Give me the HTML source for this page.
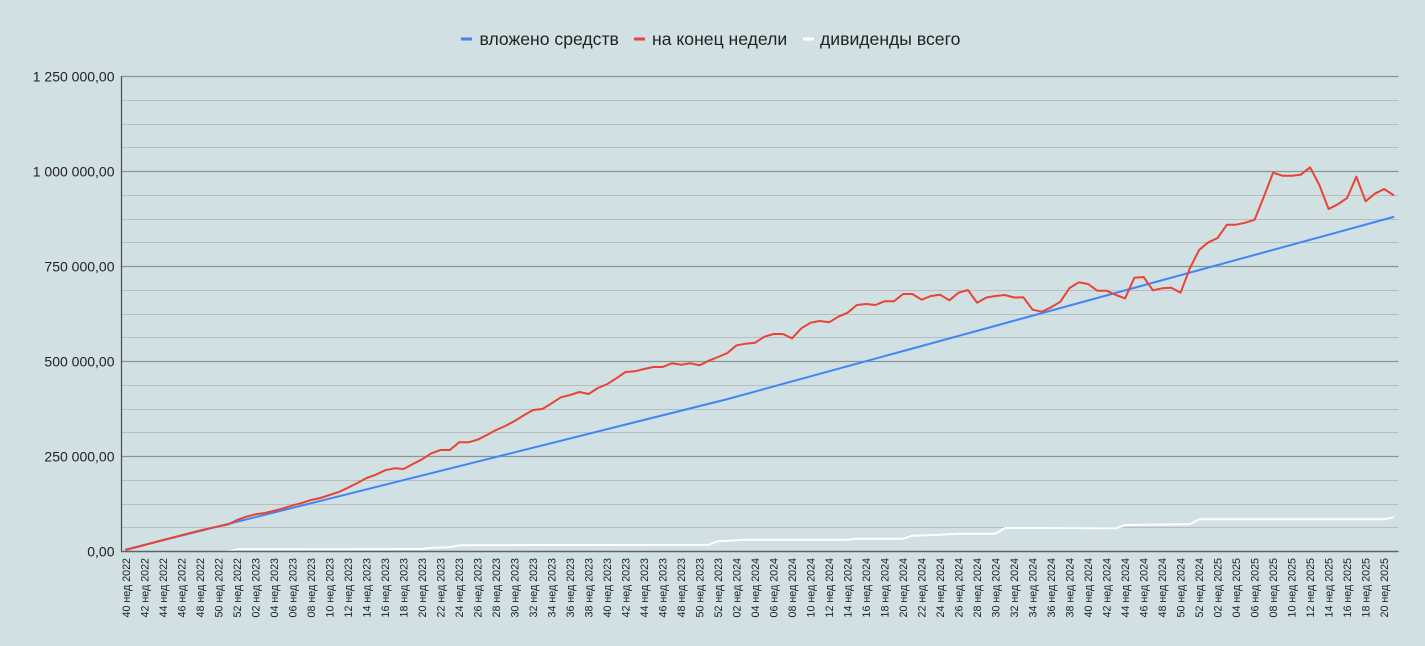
<!DOCTYPE html>
<html>
<head>
<meta charset="utf-8">
<style>
html,body{margin:0;padding:0;background:#d0e0e3;}
body{width:1425px;height:646px;overflow:hidden;}
svg{display:block;font-family:"Liberation Sans",Arial,sans-serif;}
</style>
</head>
<body>
<svg width="1425" height="646" viewBox="0 0 1425 646" xmlns="http://www.w3.org/2000/svg">
<rect x="0" y="0" width="1425" height="646" fill="#d0e0e3"/>

<!-- legend -->
<rect x="461" y="37.5" width="11" height="3" fill="#4285f4"/>
<text x="479.5" y="45" font-size="17.6" fill="#222">вложено средств</text>
<rect x="634" y="37.5" width="11" height="3" fill="#ea4335"/>
<text x="652" y="45" font-size="17.6" fill="#222">на конец недели</text>
<rect x="803" y="37.5" width="11" height="3" fill="#ffffff"/>
<text x="820" y="45" font-size="17.6" fill="#222">дивиденды всего</text>

<!-- minor gridlines -->
<g stroke="#b9bdbe" stroke-width="1">
<line x1="122" y1="100.5" x2="1398.5" y2="100.5"/>
<line x1="122" y1="124.5" x2="1398.5" y2="124.5"/>
<line x1="122" y1="147.5" x2="1398.5" y2="147.5"/>
<line x1="122" y1="195.5" x2="1398.5" y2="195.5"/>
<line x1="122" y1="219.5" x2="1398.5" y2="219.5"/>
<line x1="122" y1="242.5" x2="1398.5" y2="242.5"/>
<line x1="122" y1="290.5" x2="1398.5" y2="290.5"/>
<line x1="122" y1="314.5" x2="1398.5" y2="314.5"/>
<line x1="122" y1="337.5" x2="1398.5" y2="337.5"/>
<line x1="122" y1="385.5" x2="1398.5" y2="385.5"/>
<line x1="122" y1="409.5" x2="1398.5" y2="409.5"/>
<line x1="122" y1="432.5" x2="1398.5" y2="432.5"/>
<line x1="122" y1="480.5" x2="1398.5" y2="480.5"/>
<line x1="122" y1="504.5" x2="1398.5" y2="504.5"/>
<line x1="122" y1="527.5" x2="1398.5" y2="527.5"/>
</g>
<!-- major gridlines -->
<g stroke="#8d9293" stroke-width="1.3">
<line x1="122" y1="76.5" x2="1398.5" y2="76.5"/>
<line x1="122" y1="171.5" x2="1398.5" y2="171.5"/>
<line x1="122" y1="266.5" x2="1398.5" y2="266.5"/>
<line x1="122" y1="361.5" x2="1398.5" y2="361.5"/>
<line x1="122" y1="456.5" x2="1398.5" y2="456.5"/>
</g>

<!-- y labels -->
<g font-size="14" fill="#222" text-anchor="end">
<text x="114.5" y="81.5">1 250 000,00</text>
<text x="114.5" y="176.5">1 000 000,00</text>
<text x="114.5" y="271.5">750 000,00</text>
<text x="114.5" y="366.5">500 000,00</text>
<text x="114.5" y="461.5">250 000,00</text>
<text x="114.5" y="556.5">0,00</text>
</g>

<!-- series -->
<g transform="translate(126.1 0) scale(9.25 1)" fill="none" stroke-linejoin="round" stroke-linecap="round">
<polyline vector-effect="non-scaling-stroke" stroke="#4285f4" stroke-width="2" points="0,549.5 65,399.1 137,217"/>
<polyline vector-effect="non-scaling-stroke" stroke="#ea4335" stroke-width="2" points="0,549.8 1,547.5 2,545 3,542.5 4,540 5,537.6 6,535.2 7,532.8 8,530.5 9,528.3 10,526.3 11,524.5 12,520 13,516.7 14,514.3 15,513 16,510.7 17,508.3 18,505.3 19,503 20,500 21,498 22,495 23,492 24,487.7 25,483 26,478 27,474.7 28,470.3 29,468.3 30,469 31,464 32,459.3 33,453.3 34,450 35,450 36,442.3 37,442.3 38,439.7 39,435 40,430 41,426 42,421 43,415.3 44,410 45,409 46,403.3 47,397.3 48,395 49,392 50,394 51,388 52,384.2 53,378.3 54,372 55,371.3 56,369 57,367 58,367 59,363.3 60,364.7 61,363.3 62,365.3 63,360.7 64,357 65,353 66,345.3 67,343.7 68,342.7 69,336.7 70,334 71,334 72,338.3 73,328.3 74,322.7 75,321 76,322.3 77,316.7 78,312.7 79,305 80,304 81,305 82,301.3 83,301.3 84,294 85,294 86,299.7 87,296 88,294.7 89,300.3 90,292.7 91,290 92,302.7 93,297.5 94,296 95,295 96,297.5 97,297.3 98,309.7 99,311.7 100,307.3 101,301.7 102,288 103,282.3 104,284 105,290.7 106,290.7 107,295 108,298.3 109,277.7 110,277 111,290.3 112,288.3 113,287.7 114,292.7 115,268.3 116,250 117,242.3 118,238 119,224.7 120,224.7 121,222.7 122,219.7 123,196.7 124,172.7 125,175.7 126,175.7 127,174.7 128,167.3 129,185 130,209 131,204.3 132,198 133,176.7 134,201.3 135,193.7 136,189 137,195"/>
<polyline vector-effect="non-scaling-stroke" stroke="#ffffff" stroke-width="2" points="11,551.5 12,549.3 32,549 33,547.7 35,547.3 36,545.3 63,544.7 64,541.3 66,540.2 67,539.7 78,539.7 79,538.7 84,538.7 85,535.7 88,534.7 90,533.7 94,533.7 95,528 107,528.3 108,525 115,524.3 116,519.3 136,519.3 137,517.3"/>
</g>

<!-- axes -->
<line x1="121.5" y1="76" x2="121.5" y2="552" stroke="#4a4d4e" stroke-width="1.2"/>
<line x1="121" y1="551.5" x2="1398.5" y2="551.5" stroke="#5f6364" stroke-width="1.5"/>

<!-- x labels -->
<g font-size="10.7" fill="#222" text-anchor="end">
<text transform="translate(126.1 558) rotate(-90)" dy="0.36em">40 нед 2022</text>
<text transform="translate(144.6 558) rotate(-90)" dy="0.36em">42 нед 2022</text>
<text transform="translate(163.1 558) rotate(-90)" dy="0.36em">44 нед 2022</text>
<text transform="translate(181.6 558) rotate(-90)" dy="0.36em">46 нед 2022</text>
<text transform="translate(200.1 558) rotate(-90)" dy="0.36em">48 нед 2022</text>
<text transform="translate(218.6 558) rotate(-90)" dy="0.36em">50 нед 2022</text>
<text transform="translate(237.1 558) rotate(-90)" dy="0.36em">52 нед 2022</text>
<text transform="translate(255.6 558) rotate(-90)" dy="0.36em">02 нед 2023</text>
<text transform="translate(274.1 558) rotate(-90)" dy="0.36em">04 нед 2023</text>
<text transform="translate(292.6 558) rotate(-90)" dy="0.36em">06 нед 2023</text>
<text transform="translate(311.1 558) rotate(-90)" dy="0.36em">08 нед 2023</text>
<text transform="translate(329.6 558) rotate(-90)" dy="0.36em">10 нед 2023</text>
<text transform="translate(348.1 558) rotate(-90)" dy="0.36em">12 нед 2023</text>
<text transform="translate(366.6 558) rotate(-90)" dy="0.36em">14 нед 2023</text>
<text transform="translate(385.1 558) rotate(-90)" dy="0.36em">16 нед 2023</text>
<text transform="translate(403.6 558) rotate(-90)" dy="0.36em">18 нед 2023</text>
<text transform="translate(422.1 558) rotate(-90)" dy="0.36em">20 нед 2023</text>
<text transform="translate(440.6 558) rotate(-90)" dy="0.36em">22 нед 2023</text>
<text transform="translate(459.1 558) rotate(-90)" dy="0.36em">24 нед 2023</text>
<text transform="translate(477.6 558) rotate(-90)" dy="0.36em">26 нед 2023</text>
<text transform="translate(496.1 558) rotate(-90)" dy="0.36em">28 нед 2023</text>
<text transform="translate(514.6 558) rotate(-90)" dy="0.36em">30 нед 2023</text>
<text transform="translate(533.1 558) rotate(-90)" dy="0.36em">32 нед 2023</text>
<text transform="translate(551.6 558) rotate(-90)" dy="0.36em">34 нед 2023</text>
<text transform="translate(570.1 558) rotate(-90)" dy="0.36em">36 нед 2023</text>
<text transform="translate(588.6 558) rotate(-90)" dy="0.36em">38 нед 2023</text>
<text transform="translate(607.1 558) rotate(-90)" dy="0.36em">40 нед 2023</text>
<text transform="translate(625.6 558) rotate(-90)" dy="0.36em">42 нед 2023</text>
<text transform="translate(644.1 558) rotate(-90)" dy="0.36em">44 нед 2023</text>
<text transform="translate(662.6 558) rotate(-90)" dy="0.36em">46 нед 2023</text>
<text transform="translate(681.1 558) rotate(-90)" dy="0.36em">48 нед 2023</text>
<text transform="translate(699.6 558) rotate(-90)" dy="0.36em">50 нед 2023</text>
<text transform="translate(718.1 558) rotate(-90)" dy="0.36em">52 нед 2023</text>
<text transform="translate(736.6 558) rotate(-90)" dy="0.36em">02 нед 2024</text>
<text transform="translate(755.1 558) rotate(-90)" dy="0.36em">04 нед 2024</text>
<text transform="translate(773.6 558) rotate(-90)" dy="0.36em">06 нед 2024</text>
<text transform="translate(792.1 558) rotate(-90)" dy="0.36em">08 нед 2024</text>
<text transform="translate(810.6 558) rotate(-90)" dy="0.36em">10 нед 2024</text>
<text transform="translate(829.1 558) rotate(-90)" dy="0.36em">12 нед 2024</text>
<text transform="translate(847.6 558) rotate(-90)" dy="0.36em">14 нед 2024</text>
<text transform="translate(866.1 558) rotate(-90)" dy="0.36em">16 нед 2024</text>
<text transform="translate(884.6 558) rotate(-90)" dy="0.36em">18 нед 2024</text>
<text transform="translate(903.1 558) rotate(-90)" dy="0.36em">20 нед 2024</text>
<text transform="translate(921.6 558) rotate(-90)" dy="0.36em">22 нед 2024</text>
<text transform="translate(940.1 558) rotate(-90)" dy="0.36em">24 нед 2024</text>
<text transform="translate(958.6 558) rotate(-90)" dy="0.36em">26 нед 2024</text>
<text transform="translate(977.1 558) rotate(-90)" dy="0.36em">28 нед 2024</text>
<text transform="translate(995.6 558) rotate(-90)" dy="0.36em">30 нед 2024</text>
<text transform="translate(1014.1 558) rotate(-90)" dy="0.36em">32 нед 2024</text>
<text transform="translate(1032.6 558) rotate(-90)" dy="0.36em">34 нед 2024</text>
<text transform="translate(1051.1 558) rotate(-90)" dy="0.36em">36 нед 2024</text>
<text transform="translate(1069.6 558) rotate(-90)" dy="0.36em">38 нед 2024</text>
<text transform="translate(1088.1 558) rotate(-90)" dy="0.36em">40 нед 2024</text>
<text transform="translate(1106.6 558) rotate(-90)" dy="0.36em">42 нед 2024</text>
<text transform="translate(1125.1 558) rotate(-90)" dy="0.36em">44 нед 2024</text>
<text transform="translate(1143.6 558) rotate(-90)" dy="0.36em">46 нед 2024</text>
<text transform="translate(1162.1 558) rotate(-90)" dy="0.36em">48 нед 2024</text>
<text transform="translate(1180.6 558) rotate(-90)" dy="0.36em">50 нед 2024</text>
<text transform="translate(1199.1 558) rotate(-90)" dy="0.36em">52 нед 2024</text>
<text transform="translate(1217.6 558) rotate(-90)" dy="0.36em">02 нед 2025</text>
<text transform="translate(1236.1 558) rotate(-90)" dy="0.36em">04 нед 2025</text>
<text transform="translate(1254.6 558) rotate(-90)" dy="0.36em">06 нед 2025</text>
<text transform="translate(1273.1 558) rotate(-90)" dy="0.36em">08 нед 2025</text>
<text transform="translate(1291.6 558) rotate(-90)" dy="0.36em">10 нед 2025</text>
<text transform="translate(1310.1 558) rotate(-90)" dy="0.36em">12 нед 2025</text>
<text transform="translate(1328.6 558) rotate(-90)" dy="0.36em">14 нед 2025</text>
<text transform="translate(1347.1 558) rotate(-90)" dy="0.36em">16 нед 2025</text>
<text transform="translate(1365.6 558) rotate(-90)" dy="0.36em">18 нед 2025</text>
<text transform="translate(1384.1 558) rotate(-90)" dy="0.36em">20 нед 2025</text>
</g>
</svg>
</body>
</html>
